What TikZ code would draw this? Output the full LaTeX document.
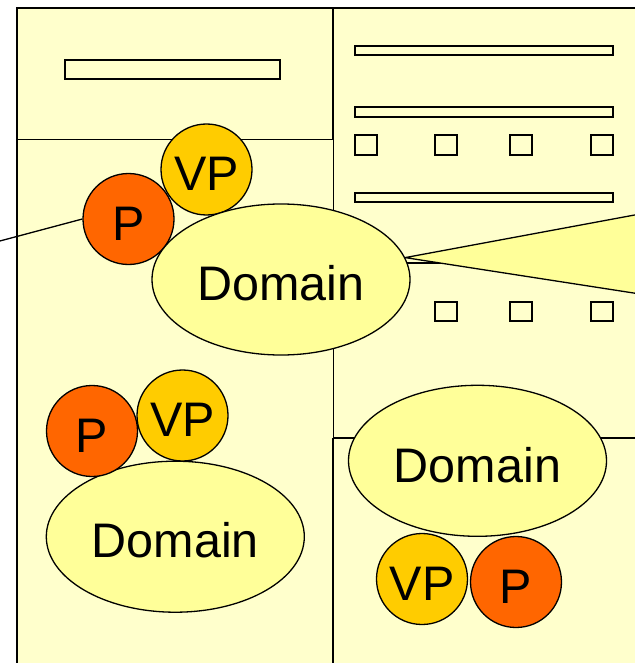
\documentclass[tikz,border=0pt]{standalone}
\usepackage{fontspec}
\setmainfont{Liberation Sans}
\usetikzlibrary{shapes.geometric}
\definecolor{panel}{HTML}{FFFFCC}
\definecolor{domainfill}{HTML}{FFFF99}
\definecolor{vpfill}{HTML}{FFCC00}
\definecolor{pfill}{HTML}{FF6600}
\pgfdeclarelayer{panels}
\pgfdeclarelayer{links}
\pgfsetlayers{panels,links,main}

\begin{document}
\begin{tikzpicture}[x=1pt,y=-1pt,
  frame/.style={line width=1.8pt},
  thinframe/.style={line width=1pt},
  bar/.style={draw, line width=1.4pt, fill=panel},
  lbl/.style={font=\fontsize{48.5}{48.5}\selectfont, text height=42.5pt, text depth=0pt, inner sep=0pt},
  domainnode/.style={ellipse, draw, line width=1.3pt, fill=domainfill, minimum width=258pt, minimum height=151pt, lbl},
  vpnode/.style={circle, draw, line width=1.3pt, fill=vpfill, minimum size=91pt, lbl},
  pnode/.style={circle, draw, line width=1.3pt, fill=pfill, minimum size=91pt, lbl},
  link/.style={line width=1.3pt},
]
\useasboundingbox (0,0) rectangle (634,663);

% upper domain with its processors
\node[vpnode] (vp1) at (206.5,169.5) {VP};
\node[pnode] (p1) at (128.5,219) {P};
\node[domainnode] (d1) at (281,279.5) {Domain};

% lower left domain
\node[domainnode] (d2) at (175.3,536.7) {Domain};
\node[pnode] (p2) at (92,431) {P};
\node[vpnode] (vp2) at (182.5,415.5) {VP};

% lower right domain
\node[domainnode] (d3) at (477.5,460.8) {Domain};
\node[vpnode] (vp3) at (422,579) {VP};
\node[pnode] (p3) at (516,582) {P};

\begin{pgfonlayer}{panels}
  \fill[white] (0,0) rectangle (634,663);
  \fill[panel] (17,8) rectangle (640,670);
  % divider of the upper right panel, mostly hidden
  \draw[link] (333,263) -- (640,263);
  % panel borders
  \draw[frame] (17,670) -- (17,8) -- (640,8);
  \draw[frame] (333,8) -- (333,140);
  \draw[thinframe] (333,140) -- (333,438);
  \draw[frame] (333,438) -- (333,670);
  \draw[thinframe] (17,140) -- (333,140);
  \draw[frame] (333,438) -- (640,438);
  % bars and slots
  \draw[bar] (65,60) rectangle (280,79);
  \draw[bar] (355,46) rectangle (613,55);
  \draw[bar] (355,107) rectangle (613,117);
  \draw[bar] (355,193) rectangle (613,202);
  \foreach \sx in {355,435,510,591} {
    \draw[bar] (\sx,135) rectangle ++(22,20);
    \draw[bar] (\sx,302) rectangle ++(22,19);
  }
\end{pgfonlayer}

\begin{pgfonlayer}{links}
  % callout wedge from the upper domain
  \coordinate (apex) at (d1.10);
  \coordinate (wtop) at (640,214);
  \coordinate (wbot) at (640,294);
  \fill[domainfill] (apex) -- (wtop) -- (wbot) -- cycle;
  \draw[link] (wtop) -- (apex) -- (wbot);
  % connector leaving to the left
  \coordinate (lend) at (-2,241.5);
  \draw[link] (lend) -- (p1.west);
\end{pgfonlayer}
\end{tikzpicture}
\end{document}
